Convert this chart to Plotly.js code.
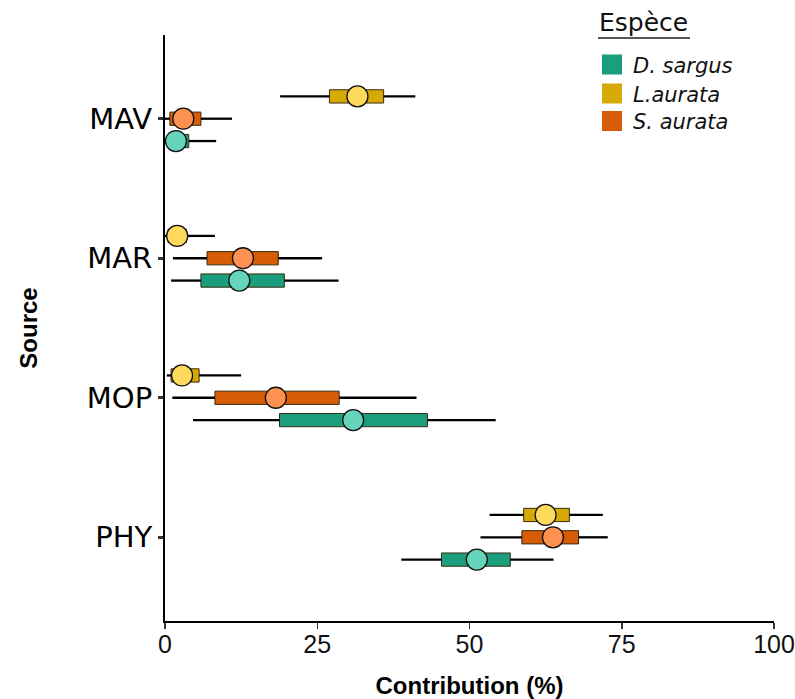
<!DOCTYPE html>
<html>
<head>
<meta charset="utf-8">
<script src="https://cdn.plot.ly/plotly-3.0.1.min.js"></script>
<style>html,body{margin:0;padding:0;background:#fff;}#chart{width:795px;height:699px;}</style>
</head>
<body>
<div id="chart"></div>
<script>
// Sources (top to bottom) and their numeric y positions
const sources = ["MAV", "MAR", "MOP", "PHY"];
const sourcePos = [4, 3, 2, 1];
const species = ["D. sargus", "L.aurata", "S. aurata"];
const speciesOffset = [-0.16, 0.16, 0];

// Contribution (%) per source, order MAV, MAR, MOP, PHY
// D. sargus
const dsLow    = [0.0, 1.0, 4.6, 38.8];
const dsQ1     = [0.5, 5.9, 18.8, 45.4];
const dsMedian = [1.8, 12.2, 30.9, 51.2];
const dsQ3     = [3.9, 19.6, 43.1, 56.7];
const dsHigh   = [8.4, 28.5, 54.3, 63.8];
// L.aurata
const laLow    = [18.9, 0.0, 0.3, 53.3];
const laQ1     = [27.0, 0.5, 1.0, 58.9];
const laMedian = [31.6, 2.0, 2.8, 62.5];
const laQ3     = [35.9, 3.5, 5.6, 66.4];
const laHigh   = [41.1, 8.2, 12.5, 71.9];
// S. aurata
const saLow    = [0.0, 1.3, 1.2, 51.8];
const saQ1     = [0.8, 6.9, 8.2, 58.6];
const saMedian = [3.0, 12.8, 18.2, 63.7];
const saQ3     = [5.9, 18.6, 28.6, 67.9];
const saHigh   = [11.0, 25.8, 41.3, 72.7];

const xTicks = [0, 25, 50, 75, 100];

const boxColors = ["#1a9e7d", "#d6aa05", "#d75c06"];
const dotColors = ["#66d4bb", "#fdd95c", "#fc9152"];

const stats = [
  [dsLow, dsQ1, dsMedian, dsQ3, dsHigh],
  [laLow, laQ1, laMedian, laQ3, laHigh],
  [saLow, saQ1, saMedian, saQ3, saHigh]
];

const W = 795, H = 699;
const M = {l: 165, r: 21, t: 35, b: 78};
const px = x => (x - M.l) / (W - M.l - M.r);
const py = y => (H - M.b - y) / (H - M.t - M.b);

const whiskerTraces = [], boxTraces = [], dotTraces = [];
species.forEach((sp, i) => {
  const [lo, q1, med, q3, hi] = stats[i];
  const ys = sourcePos.map(p => p + speciesOffset[i]);
  const wx = [], wy = [];
  ys.forEach((y, k) => {
    wx.push(lo[k], q1[k], null, q3[k], hi[k], null);
    wy.push(y, y, null, y, y, null);
  });
  whiskerTraces.push({
    type: "scatter", mode: "lines", x: wx, y: wy,
    line: {color: "#000", width: 2.3}, showlegend: false, hoverinfo: "skip"
  });
  boxTraces.push({
    type: "bar", orientation: "h", name: sp,
    y: ys, x: q3.map((v, k) => v - q1[k]), base: q1, width: 0.095,
    marker: {color: boxColors[i], line: {color: "#3a2a10", width: 1}},
    showlegend: false
  });
  dotTraces.push({
    type: "scatter", mode: "markers", x: med, y: ys,
    marker: {size: 21, color: dotColors[i], line: {color: "#111", width: 1.3}},
    showlegend: false
  });
});

const data = [...whiskerTraces, ...boxTraces, ...dotTraces];

// manual legend (paper coordinates)
const legendY = [64.5, 93.5, 121];
const shapes = [{
  type: "line", xref: "paper", yref: "paper",
  x0: px(598), x1: px(690), y0: py(38), y1: py(38),
  line: {color: "#555", width: 2}
}];
const annotations = [{
  xref: "paper", yref: "paper", x: px(597), y: py(22), xanchor: "left", yanchor: "middle",
  text: "Espèce", showarrow: false,
  font: {family: "DejaVu Sans, sans-serif", size: 25, color: "#111"}
}];
species.forEach((sp, i) => {
  shapes.push({
    type: "rect", xref: "paper", yref: "paper",
    x0: px(602), x1: px(622), y0: py(legendY[i] + 10), y1: py(legendY[i] - 10),
    fillcolor: boxColors[i], line: {width: 0}
  });
  annotations.push({
    xref: "paper", yref: "paper", x: px(631), y: py(legendY[i] + 1), xanchor: "left", yanchor: "middle",
    text: "<i>" + sp + "</i>", showarrow: false,
    font: {family: "DejaVu Sans, sans-serif", size: 21, color: "#111"}
  });
});

const layout = {
  width: W, height: H,
  margin: M,
  paper_bgcolor: "#fff", plot_bgcolor: "#fff",
  barmode: "overlay",
  showlegend: false,
  xaxis: {
    range: [0, 100], tickvals: xTicks, ticktext: xTicks.map(String),
    showgrid: false, zeroline: false,
    showline: true, linecolor: "#000", linewidth: 2,
    ticks: "outside", ticklen: 6, tickcolor: "#333", tickwidth: 1.5,
    ticklabelstandoff: -6,
    tickfont: {family: "Liberation Sans, Arial, sans-serif", size: 25, color: "#111"},
    title: {text: "<b>Contribution (%)</b>", font: {family: "Liberation Sans, Arial, sans-serif", size: 24, color: "#000"}, standoff: 24}
  },
  yaxis: {
    range: [0.4, 4.6], tickvals: sourcePos, ticktext: sources,
    showgrid: false, zeroline: false,
    showline: true, linecolor: "#000", linewidth: 2,
    ticks: "outside", ticklen: 5, tickcolor: "#333", tickwidth: 3,
    tickfont: {family: "DejaVu Sans, Verdana, sans-serif", size: 29, color: "#000"},
    title: {text: "<b>Source</b>", font: {family: "Liberation Sans, Arial, sans-serif", size: 24, color: "#000"}, standoff: 42}
  },
  shapes: shapes,
  annotations: annotations
};

Plotly.newPlot("chart", data, layout, {displayModeBar: false, staticPlot: true});
</script>
</body>
</html>
